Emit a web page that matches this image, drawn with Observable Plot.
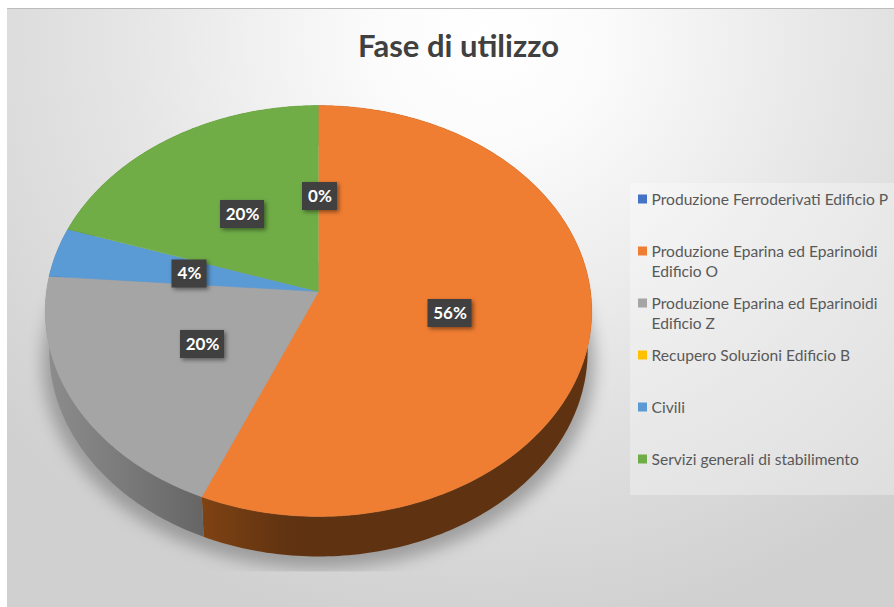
<!DOCTYPE html>
<html>
<head>
<meta charset="utf-8">
<script src="https://cdn.jsdelivr.net/npm/d3@7"></script>
<script src="https://cdn.jsdelivr.net/npm/@observablehq/plot@0.6"></script>
<style>
html,body{margin:0;padding:0;background:#fff;}
#chart svg{display:block;}
</style>
</head>
<body>
<div id="chart"></div>
<script>
// ---- data ----
const chartTitle = "Fase di utilizzo";
const categories = [
  "Produzione Ferroderivati Edificio P",
  "Produzione Eparina ed Eparinoidi\nEdificio O",
  "Produzione Eparina ed Eparinoidi\nEdificio Z",
  "Recupero Soluzioni Edificio B",
  "Civili",
  "Servizi generali di stabilimento"
];
const shares = [0, 56.4, 19.8, 0, 3.9, 19.9];
const sliceColors = ["#4472c4", "#f07e32", "#a5a5a5", "#ffc000", "#5b9bd5", "#70ad47"];
const wallColors = ["#2a4478", "url(#wallOrange)", "url(#wallGrey)", "#997300", "#2f5f8d", "#43682b"];

// ---- layout (not data) ----
const W = 894, H = 607;
const disc = {cx: 318, cy: 291, rx: 272, ry: 203.6, k: 0.095};
const wall = {depth: 40, shrink: 0.985};
const labelCentres = [[319.5,196],[449.5,313],[202,344],null,[189,273.5],[242,214]];
const legendRows = [199, 251, 303, 355, 407, 459];

function project(deg) {
  const a = deg * Math.PI / 180, u = Math.sin(a), v = -Math.cos(a), w = 1 - disc.k * v;
  return [disc.cx + disc.rx * u / w, disc.cy + disc.ry * v / w];
}
function lower([x, y], extra = 0) {
  return [disc.cx + (x - disc.cx) * wall.shrink, y + wall.depth + extra];
}
function arc(a0, a1) {
  const n = Math.max(2, Math.ceil(Math.abs(a1 - a0)));
  return d3.range(n + 1).map(i => a0 + (a1 - a0) * i / n);
}

let cum = 0;
const slices = categories.map((name, i) => {
  const a0 = cum * 3.6; cum += shares[i];
  return {name, i, a0, a1: cum * 3.6, share: shares[i]};
});

const topPts = slices.filter(s => s.share > 0).flatMap(s =>
  [[disc.cx, disc.cy], ...arc(s.a0, s.a1).map(project)].map(([x, y]) => ({x, y, name: s.name}))
);
const wallPts = slices.filter(s => s.share > 0).map(s => ({
  i: s.i,
  pts: [...arc(s.a0, s.a1).map(project), ...arc(s.a1, s.a0).map(a => lower(project(a)))].map(([x, y]) => ({x, y}))
}));
const shadowPts = arc(0, 360).map(a => lower(project(a), 12)).map(([x, y]) => ({x: disc.cx + (x - disc.cx) * 1.025, y}));

const boxSize = t => t.length > 2 ? 44 : 35;
const labels = slices.map((s, i) => ({
  text: Math.round(s.share) + "%",
  c: labelCentres[i]
})).filter(d => d.c);

const legendItems = categories.map((name, i) => ({name, i, y: legendRows[i]}));

const defs = () => {
  const s = d3.create("svg:defs");
  const grad = (id, stops) => {
    const g = s.append("linearGradient").attr("id", id).attr("gradientUnits", "userSpaceOnUse")
      .attr("x1", 40).attr("x2", 600).attr("y1", 0).attr("y2", 0);
    stops.forEach(([o, c]) => g.append("stop").attr("offset", o).attr("stop-color", c));
  };
  grad("wallGrey", [[0, "#8e8e8e"], [0.15, "#7a7a7a"], [0.3, "#646464"]]);
  grad("wallOrange", [[0.29, "#7e4213"], [0.45, "#5f3211"], [1, "#5f3211"]]);
  s.append("clipPath").attr("id", "shadowClip").append("rect")
    .attr("x", 28).attr("y", 262).attr("width", 582).attr("height", 309);
  return s.node();
};

const clipShadow = (i, sc, v, d, c, next) => {
  const g = next(i, sc, v, d, c);
  g.setAttribute("clip-path", "url(#shadowClip)");
  return g;
};

const plot = Plot.plot({
  width: W, height: H,
  margin: 0,
  x: {domain: [0, W], range: [0, W], axis: null},
  y: {domain: [0, H], range: [0, H], axis: null},
  color: {domain: categories, range: sliceColors},
  style: {
    fontFamily: "Lato, sans-serif",
    background: "linear-gradient(#bcbcbc,#bcbcbc) 7px 8px / 887px 1px no-repeat, radial-gradient(ellipse 640px 600px at 480px 30px, #ffffff 0%, #fbfbfb 18%, #e6e6e6 55%, #d0d0d0 100%) 7px 9px / 887px 598px no-repeat"
  },
  marks: [
    defs,
    Plot.line(shadowPts, {x: "x", y: "y", fill: "#777777", fillOpacity: 0.6, stroke: "none", imageFilter: "blur(8px)", render: clipShadow}),
    ...wallPts.map(w => Plot.line(w.pts, {x: "x", y: "y", fill: wallColors[w.i], stroke: "none"})),
    Plot.line(topPts, {x: "x", y: "y", z: "name", fill: "name", stroke: "name", strokeWidth: 0.5}),
    Plot.rect(labels, {
      x1: d => d.c[0] - boxSize(d.text) / 2, x2: d => d.c[0] + boxSize(d.text) / 2,
      y1: d => d.c[1] - 14, y2: d => d.c[1] + 14,
      fill: "#404040",
      imageFilter: "drop-shadow(2px 2px 2px rgba(0,0,0,0.45))"
    }),
    Plot.text(labels, {
      x: d => d.c[0], y: d => d.c[1], text: "text",
      fill: "#ffffff", fontWeight: 700, fontSize: 17, textAnchor: "middle"
    }),
    Plot.text([chartTitle], {
      x: () => 458, y: () => 47, text: d => d,
      fill: "#404040", fontWeight: 700, fontSize: 31, textAnchor: "middle"
    }),
    Plot.rect([0], {x1: () => 630, x2: () => W, y1: () => 183, y2: () => 495, fill: "#ffffff", fillOpacity: 0.3}),
    Plot.rect(legendItems, {
      x1: () => 638, x2: () => 647, y1: d => d.y - 4.5, y2: d => d.y + 4.5,
      fill: "name"
    }),
    Plot.text(legendItems, {
      x: () => 651, y: d => d.y - 8.7, text: "name",
      fill: "#595959", fontSize: 15.6, lineHeight: 1.3, textAnchor: "start", lineAnchor: "top"
    })
  ]
});
document.getElementById("chart").append(plot);
</script>
</body>
</html>
